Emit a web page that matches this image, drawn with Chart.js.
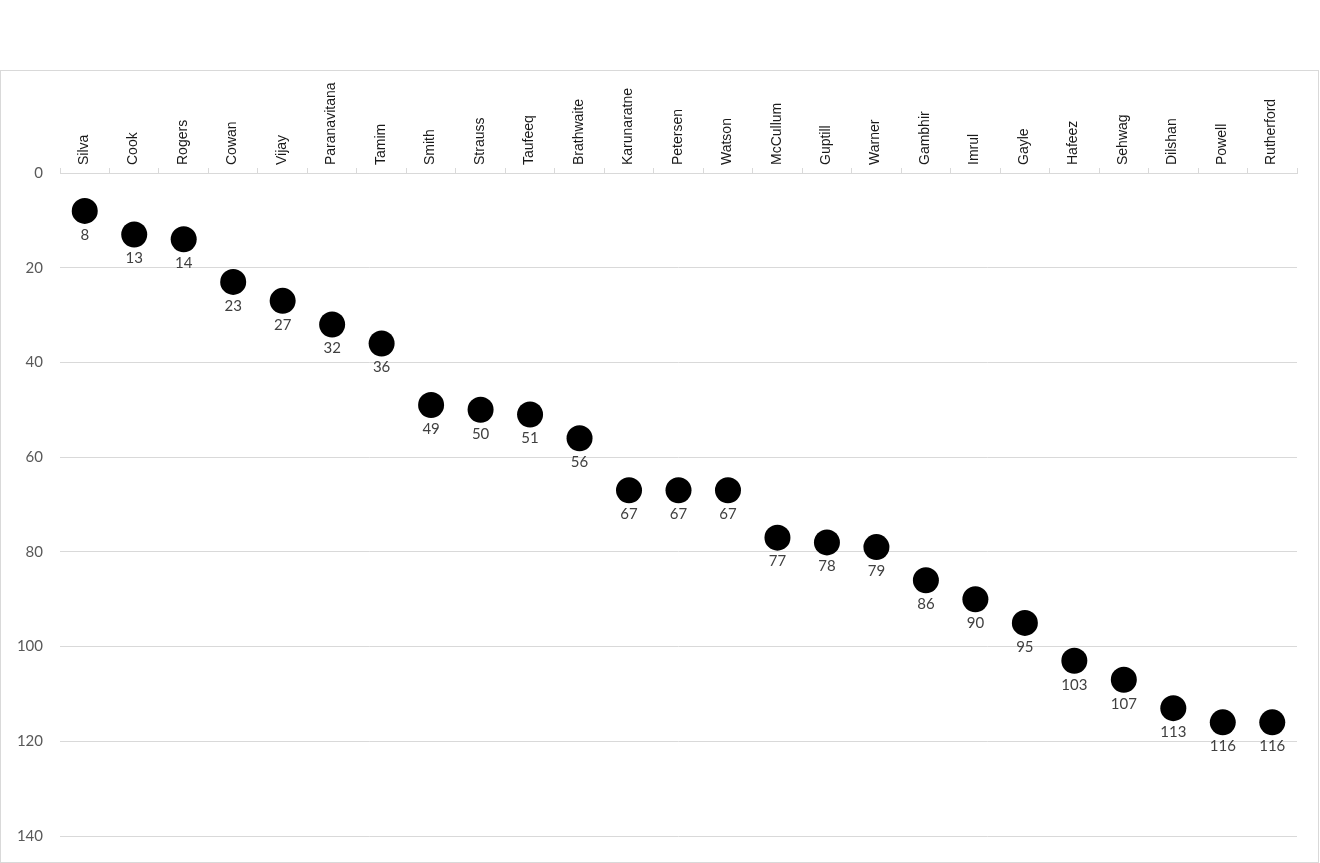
<!DOCTYPE html>
<html>
<head>
<meta charset="utf-8">
<script src="https://cdn.jsdelivr.net/npm/chart.js@4"></script>
<style>
  html, body { margin: 0; padding: 0; background: #fff; }
  #box {
    position: absolute; left: 0; top: 70px;
    width: 1317px; height: 791px;
    border: 1px solid #d9d9d9; background: #fff;
  }
  #chart { display: block; }
</style>
</head>
<body>
<div id="box"><canvas id="chart" width="1317" height="791"></canvas></div>
<script>
// player names along the top axis
const players = ['Silva', 'Cook', 'Rogers', 'Cowan', 'Vijay', 'Paranavitana', 'Tamim', 'Smith',
  'Strauss', 'Taufeeq', 'Brathwaite', 'Karunaratne', 'Petersen', 'Watson', 'McCullum', 'Guptill',
  'Warner', 'Gambhir', 'Imrul', 'Gayle', 'Hafeez', 'Sehwag', 'Dilshan', 'Powell', 'Rutherford'];

// values shown under each dot
const ranks = [8, 13, 14, 23, 27, 32, 36, 49, 50, 51, 56, 67, 67, 67, 77, 78, 79, 86, 90, 95,
  103, 107, 113, 116, 116];

const yMin = 0;
const yMax = 140;
const yStep = 20;

// draws the value below each point
const valueLabels = {
  id: 'valueLabels',
  afterDatasetsDraw(chart) {
    const ctx = chart.ctx;
    const meta = chart.getDatasetMeta(0);
    ctx.save();
    ctx.font = '15px Lato, "Open Sans", sans-serif';
    ctx.fillStyle = '#404040';
    ctx.textAlign = 'center';
    ctx.textBaseline = 'middle';
    meta.data.forEach((pt, i) => {
      ctx.fillText(String(ranks[i]), pt.x, pt.y + 24);
    });
    ctx.restore();
  }
};

new Chart(document.getElementById('chart').getContext('2d'), {
  type: 'line',
  data: {
    labels: players,
    datasets: [{
      data: ranks,
      showLine: false,
      pointRadius: 13,
      pointHoverRadius: 13,
      pointBackgroundColor: '#000',
      pointBorderColor: '#000',
      pointBorderWidth: 0
    }]
  },
  options: {
    responsive: false,
    animation: false,
    layout: { padding: { left: 0, right: 21, top: 0, bottom: 18 } },
    plugins: {
      legend: { display: false },
      tooltip: { enabled: false }
    },
    scales: {
      x: {
        position: 'top',
        offset: true,
        afterFit(scale) { scale.height = 102; },
        grid: {
          offset: true,
          drawOnChartArea: false,
          drawTicks: true,
          tickLength: 5,
          color: '#d9d9d9'
        },
        border: { display: true, color: '#d9d9d9' },
        ticks: {
          minRotation: 90,
          maxRotation: 90,
          autoSkip: false,
          padding: 3,
          labelOffset: 16,
          color: '#1a1a1a',
          font: { family: '"Liberation Sans", Arial, sans-serif', size: 14 }
        }
      },
      y: {
        reverse: true,
        min: yMin,
        max: yMax,
        afterFit(scale) { scale.width = 59; },
        grid: { color: '#d9d9d9', drawTicks: false },
        border: { display: false },
        ticks: {
          stepSize: yStep,
          padding: 17,
          color: '#595959',
          font: { family: 'Lato, "Open Sans", sans-serif', size: 15 }
        }
      }
    }
  },
  plugins: [valueLabels]
});
</script>
</body>
</html>
